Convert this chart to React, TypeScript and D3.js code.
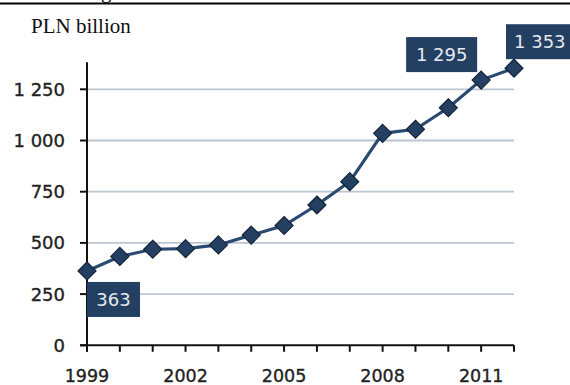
import React from "react";
import * as d3 from "d3";

const years = [1999, 2000, 2001, 2002, 2003, 2004, 2005, 2006, 2007, 2008, 2009, 2010, 2011, 2012];
const values = [363, 434, 469, 472, 490, 538, 585, 685, 799, 1035, 1055, 1160, 1295, 1353];
const yTicks = [0, 250, 500, 750, 1000, 1250];
const xLabelYears = [1999, 2002, 2005, 2008, 2011];
const labelledYears = [1999, 2011, 2012];
const unitLabel = "PLN billion";

const fmt = (v: number) => {
  const s = String(v);
  return s.length > 3 ? s.slice(0, s.length - 3) + " " + s.slice(-3) : s;
};

export default function App() {
  const W = 570, H = 385;
  const x = d3.scaleLinear().domain([1999, 2012]).range([87, 514]);
  const y = d3.scaleLinear().domain([0, 1250]).range([345.3, 89.3]);
  const axisTop = y(1382);
  const line = d3.line<number>().x((_, i) => x(years[i])).y((d) => y(d));
  const font = "'DejaVu Sans', Verdana, sans-serif";
  const navy = "#233f62";
  const diamond = (cx: number, cy: number) => {
    const r = 9;
    return `M${cx},${cy - r}L${cx + r},${cy}L${cx},${cy + r}L${cx - r},${cy}Z`;
  };
  const labelBoxes: Record<number, { dx: number; dy: number; w: number }> = {
    1999: { dx: 0, dy: 11, w: 53 },
    2011: { dx: -75, dy: -43, w: 71 },
    2012: { dx: -8, dy: -44, w: 72 },
  };
  return (
    <svg width={W} height={H} style={{ position: "absolute", left: 0, top: 0, background: "#fff" }}>
      <text x={101} y={-2} fontFamily="'Liberation Serif', serif" fontSize={21} fill="#111">g</text>
      <line x1={0} x2={W} y1={3.5} y2={3.5} stroke="#000" strokeWidth={2.2} />
      <text x={31} y={32.5} fontFamily="'Liberation Serif', 'Times New Roman', serif" fontSize={21} fill="#111">{unitLabel}</text>
      {yTicks.filter((t) => t > 0).map((t) => (
        <line key={"g" + t} x1={x(1999)} x2={x(2012)} y1={y(t)} y2={y(t)} stroke="#bcc6d3" strokeWidth={1.8} />
      ))}
      <line x1={x(1999)} x2={x(1999)} y1={axisTop} y2={y(0) + 6.5} stroke="#111" strokeWidth={2} />
      <line x1={x(1999) - 7} x2={x(2012)} y1={y(0)} y2={y(0)} stroke="#111" strokeWidth={2} />
      {yTicks.map((t) => (
        <g key={"y" + t}>
          <line x1={x(1999) - 7} x2={x(1999)} y1={y(t)} y2={y(t)} stroke="#111" strokeWidth={2} />
          <text x={65} y={y(t) + 6.5} textAnchor="end" fontFamily={font} fontSize={18} fill="#222" stroke="#222" strokeWidth={0.35}>
            {fmt(t)}
          </text>
        </g>
      ))}
      {years.map((yr) => (
        <line key={"xt" + yr} x1={x(yr)} x2={x(yr)} y1={y(0)} y2={y(0) + 6.5} stroke="#111" strokeWidth={2} />
      ))}
      {xLabelYears.map((yr) => (
        <text key={"xl" + yr} x={x(yr)} y={381.5} textAnchor="middle" fontFamily={font} fontSize={17.5} fill="#222" stroke="#222" strokeWidth={0.35}>
          {yr}
        </text>
      ))}
      <path d={line(values) || ""} fill="none" stroke="#2b4a72" strokeWidth={3.2} />
      {values.map((v, i) => (
        <path key={"m" + i} d={diamond(x(years[i]), y(v))} fill={navy} stroke="#15253a" strokeWidth={1.2} />
      ))}
      {labelledYears.map((yr) => {
        const i = years.indexOf(yr);
        const cx = x(yr), cy = y(values[i]);
        const b = labelBoxes[yr];
        return (
          <g key={"lb" + yr}>
            <rect x={cx + b.dx} y={cy + b.dy} width={b.w} height={35} fill={navy} />
            <text x={cx + b.dx + (yr === 2012 ? 8 : b.w / 2)} y={cy + b.dy + 24} textAnchor={yr === 2012 ? "start" : "middle"} fontFamily={font} fontSize={18} fill="#e6e9ee">
              {fmt(values[i])}
            </text>
          </g>
        );
      })}
    </svg>
  );
}
